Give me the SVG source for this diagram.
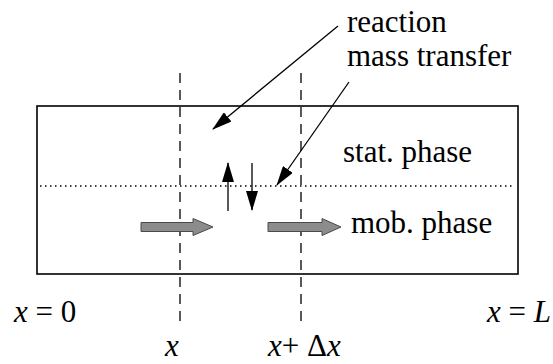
<svg xmlns="http://www.w3.org/2000/svg" width="553" height="364" viewBox="0 0 553 364">
<style>
text{font-family:"Times New Roman","Liberation Serif",Tinos,"Noto Serif","DejaVu Serif",Times,serif;font-size:31px;fill:#000}
.it{font-style:italic}
.dash{stroke:#000;stroke-width:1.3;stroke-dasharray:10 7;fill:none}
.line{stroke:#000;stroke-width:1.3;fill:none}
.flow{fill:#8c8c8c;stroke:#4a4a4a;stroke-width:1}
</style>
<defs>
<marker id="ah" markerWidth="20" markerHeight="12" refX="19" refY="6" orient="auto" markerUnits="userSpaceOnUse">
<path d="M0,0 L20,6 L0,12 Z" fill="#000"/>
</marker>
</defs>
<rect width="553" height="364" fill="#fff"/>
<g id="column">
<rect x="37" y="106" width="481" height="168" fill="none" stroke="#000" stroke-width="1.6"/>
<line x1="40" y1="186" x2="515" y2="186" stroke="#000" stroke-width="1.5" stroke-dasharray="1.5 3.5"/>
</g>
<g id="slice-lines">
<line class="dash" x1="180" y1="73" x2="180" y2="328"/>
<line class="dash" x1="301" y1="73" x2="301" y2="328"/>
</g>
<g id="labels">
<text x="347" y="32">reaction</text>
<text x="347" y="66">mass transfer</text>
<text x="343" y="162">stat. phase</text>
<text x="351" y="233">mob. phase</text>
<text x="14" y="322"><tspan class="it">x</tspan> = 0</text>
<text x="487" y="322"><tspan class="it">x</tspan> = <tspan class="it">L</tspan></text>
<text x="165" y="356" class="it">x</text>
<text x="268" y="356"><tspan class="it">x</tspan>+ Δ<tspan class="it">x</tspan></text>
</g>
<g id="connectors">
<line class="line" x1="338" y1="26" x2="213" y2="129" marker-end="url(#ah)"/>
<line class="line" x1="349" y1="82" x2="277" y2="185" marker-end="url(#ah)"/>
<line class="line" x1="228" y1="211" x2="228" y2="163" marker-end="url(#ah)"/>
<line class="line" x1="252" y1="163" x2="252" y2="210" marker-end="url(#ah)"/>
<path class="flow" d="M141,222.5 L193,222.5 L193,218.5 L213,227 L193,235.5 L193,231.5 L141,231.5 Z"/>
<path class="flow" d="M268,222.5 L322,222.5 L322,218.5 L341,227 L322,235.5 L322,231.5 L268,231.5 Z"/>
</g>
</svg>
